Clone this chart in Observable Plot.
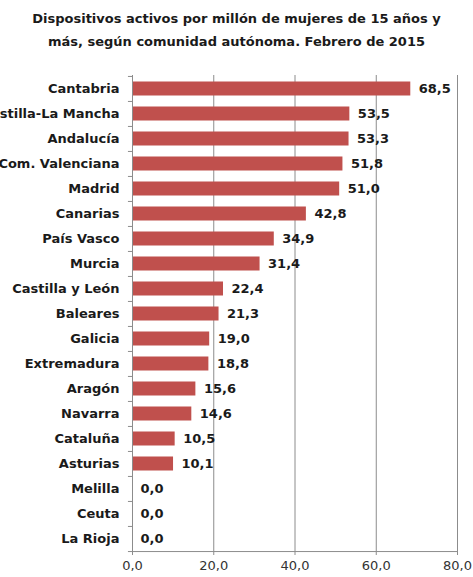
<!DOCTYPE html>
<html>
<head>
<meta charset="utf-8">
<script src="https://cdn.jsdelivr.net/npm/d3@7"></script>
<script src="https://cdn.jsdelivr.net/npm/@observablehq/plot@0.6"></script>
<style>
  html, body { margin: 0; padding: 0; background: #fff; overflow: hidden; width: 473px; height: 577px; }
  #title { font-family: "DejaVu Sans", sans-serif; font-weight: bold; font-size: 13px; color: #1a1a1a; text-align: center; line-height: 23px; padding-top: 7px; height: 48px; }
  svg { display: block; overflow: visible; }
</style>
</head>
<body>
<div id="title">Dispositivos activos por millón de mujeres de 15 años y<br>más, según comunidad autónoma. Febrero de 2015</div>
<div id="chart"></div>
<script>
const regions = ["Cantabria","Castilla-La Mancha","Andalucía","Com. Valenciana","Madrid","Canarias","País Vasco","Murcia","Castilla y León","Baleares","Galicia","Extremadura","Aragón","Navarra","Cataluña","Asturias","Melilla","Ceuta","La Rioja"];
const values = [68.5,53.5,53.3,51.8,51.0,42.8,34.9,31.4,22.4,21.3,19.0,18.8,15.6,14.6,10.5,10.1,0.0,0.0,0.0];
const xTicks = [0,20,40,60,80];

const data = regions.map((r, i) => ({region: r, value: values[i]}));
const fmt = v => v.toFixed(1).replace(".", ",");

const H = 522, MT = 20, MB = 25;
const step = (H - MT - MB) / regions.length;
const grey = "#8c8c8c";

const chart = Plot.plot({
  width: 473,
  height: H,
  marginTop: MT,
  marginBottom: MB,
  marginLeft: 132,
  marginRight: 16,
  style: {fontFamily: "'DejaVu Sans', sans-serif", fontSize: "13px", color: "#1a1a1a", background: "#fff"},
  x: {domain: [0, 80], ticks: xTicks, tickFormat: fmt, label: null},
  y: {domain: regions, padding: 0, label: null},
  marks: [
    Plot.gridX(xTicks.filter(d => d > 0), {stroke: grey, strokeOpacity: 1, strokeWidth: 1}),
    Plot.barX(data, {x: "value", y: "region", fill: "#c0504d", insetTop: 5.5, insetBottom: 5.5}),
    Plot.text(data, {x: "value", y: "region", text: d => fmt(d.value), textAnchor: "start", dx: 8, fontWeight: "bold", fontSize: 13, fill: "#1a1a1a"}),
    Plot.axisX({ticks: xTicks, tickFormat: fmt, tickSize: 3, tickPadding: 5, stroke: grey, fontSize: 13, fill: "#333"}),
    Plot.axisY({tickSize: 0, tickPadding: 13, fontWeight: "bold", fontSize: 13, fill: "#1a1a1a"}),
    // category boundary ticks on the left
    Plot.ruleY(regions, {y: d => d, x1: -1, x2: 0, dy: -step / 2, stroke: grey}),
    Plot.ruleY([regions[regions.length - 1]], {x1: -1, x2: 80, dy: step / 2, stroke: grey}),
    Plot.ruleX([0], {stroke: grey})
  ]
});
document.getElementById("chart").appendChild(chart);
</script>
</body>
</html>
